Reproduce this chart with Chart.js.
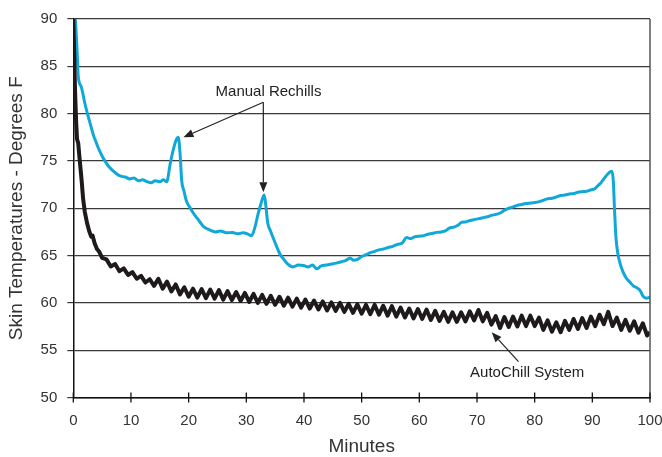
<!DOCTYPE html>
<html>
<head>
<meta charset="utf-8">
<script src="https://cdn.jsdelivr.net/npm/chart.js@4.4.1/dist/chart.umd.min.js"></script>
<style>
  html, body { margin: 0; padding: 0; background: #fff; }
</style>
</head>
<body>
<canvas id="myChart" width="662" height="457"></canvas>
<script>
// AutoChill system (black) - minutes and skin temperature
const autoChillMin = [0, 0.15, 0.3, 0.5, 0.65, 0.85, 1.05, 1.45, 1.7, 2.0, 2.4, 2.8, 3.1, 3.35, 3.7, 4.1, 4.5,
  5, 5.75, 6.5, 7.25, 8, 8.75, 9.5, 10.25, 11, 11.75, 12.5, 13.25, 14, 14.75, 15.5, 16.25, 17, 17.75,
  18.5, 19.25, 20, 20.75, 21.5, 22.25, 23, 23.75, 24.5, 25.25, 26, 26.75, 27.5, 28.25, 29, 29.75,
  30.5, 31.25, 32, 32.75, 33.5, 34.25, 35, 35.75, 36.5, 37.25, 38, 38.75, 39.5, 40.25, 41, 41.75,
  42.5, 43.25, 44, 44.75, 45.5, 46.25, 47, 47.75, 48.5, 49.25, 50, 50.75, 51.5, 52.25, 53, 53.75,
  54.5, 55.25, 56, 56.75, 57.5, 58.25, 59, 59.75, 60.5, 61.25, 62, 62.75, 63.5, 64.25, 65, 65.75,
  66.5, 67.25, 68, 68.75, 69.5, 70.25, 71, 71.75, 72.5, 73.25, 74, 74.75, 75.5, 76.25, 77, 77.75,
  78.5, 79.25, 80, 80.75, 81.5, 82.25, 83, 83.75, 84.5, 85.25, 86, 86.75, 87.5, 88.25, 89, 89.75,
  90.5, 91.25, 92, 92.75, 93.5, 94.25, 95, 95.75, 96.5, 97.25, 98, 98.75, 99.5, 100];
const autoChillTemp = [90, 86.5, 82.5, 79, 77.3, 76.9, 75.5, 72.9, 71.0, 69.6, 68.4, 67.5, 67.0, 67.1, 66.3, 65.7, 65.4,
  64.75, 64.6, 63.85, 64.1, 63.35, 63.65, 62.95, 63.25, 62.55, 62.85, 62.15, 62.5, 61.8, 62.55, 61.5, 62.25, 61.2, 61.95,
  60.9, 61.65, 60.65, 61.5, 60.55, 61.45, 60.5, 61.4, 60.45, 61.35, 60.35, 61.25, 60.3, 61.15, 60.2, 61.05,
  60.1, 60.95, 60.0, 60.85, 59.9, 60.75, 59.8, 60.65, 59.7, 60.55, 59.6, 60.45, 59.5, 60.35, 59.4, 60.25,
  59.3, 60.15, 59.2, 60.05, 59.15, 60.0, 59.05, 59.9, 58.95, 59.85, 58.85, 59.8, 58.8, 59.8, 58.75, 59.7,
  58.65, 59.65, 58.55, 59.5, 58.45, 59.4, 58.35, 59.35, 58.3, 59.3, 58.2, 59.15, 58.1, 59.05, 58.0, 59.0,
  58.0, 59.0, 58.05, 59.1, 58.15, 59.25, 58.05, 58.95, 57.7, 58.6, 57.35, 58.5, 57.45, 58.55, 57.5, 58.65,
  57.55, 58.65, 57.55, 58.45, 57.15, 58.15, 56.95, 57.95, 56.9, 58.1, 57.15, 58.3, 57.25, 58.4, 57.35, 58.55,
  57.55, 58.75, 57.75, 59.05, 57.55, 58.45, 57.15, 58.2, 57.05, 58.05, 56.85, 57.85, 56.55, 56.9];

// manual rechill (blue)
const manualMin = [0.35, 0.5, 0.66, 0.85, 1.4, 2.0, 2.5, 3.0, 3.5, 4.0, 4.6, 5.1, 5.7, 6.3, 7.0, 7.6, 8.2, 9.0, 9.8,
  10.5, 11.3, 12.0, 12.8, 13.5, 14.2, 15.0, 15.6, 16.2, 16.8, 17.3, 17.9, 18.2, 18.5, 18.8, 19.2, 19.6,
  20.2, 20.8, 21.4, 21.9, 22.7, 23.7, 24.6, 25.5, 26.6, 27.6, 28.5, 29.4, 30.2, 30.9, 31.5, 32.0, 32.5,
  33.1, 33.4, 33.7, 34.2, 34.7, 35.3, 35.8, 36.5, 37.2, 38.1, 39.0, 39.9, 40.7, 41.5, 42.2, 43.0, 43.9,
  44.8, 45.6, 46.5, 47.3, 48.0, 48.6, 49.3, 50.0, 50.8, 51.5, 52.3, 53.0, 53.8, 54.6, 55.5, 56.3, 57.0,
  57.8, 58.5, 59.3, 60.0, 60.7, 61.5, 62.3, 63.0, 63.8, 64.5, 65.2, 66.0, 66.7, 67.3, 68.0, 68.8, 69.5,
  70.3, 71.0, 71.8, 72.5, 73.3, 74.0, 74.8, 75.5, 76.3, 77.0, 77.8, 78.5, 79.3, 80.0, 80.8, 81.5, 82.3,
  83.0, 83.8, 84.5, 85.3, 86.0, 86.8, 87.5, 88.3, 89.0, 89.8, 90.5, 91.0, 91.5, 92.0, 92.5, 93.0, 93.4,
  93.65, 93.85, 94.1, 94.4, 94.8, 95.3, 95.9, 96.5, 97.1, 97.7, 98.3, 98.8, 99.4, 100];
const manualTemp = [90.0, 88.5, 86.6, 84.0, 82.8, 81.1, 79.9, 78.8, 77.7, 76.9, 76.0, 75.4, 74.8, 74.3, 73.9, 73.6, 73.4, 73.3, 73.1,
  73.2, 72.9, 73.0, 72.8, 72.7, 72.9, 72.8, 73.0, 72.8, 74.7, 76.1, 77.3, 77.5, 75.9, 72.9, 71.8, 70.8,
  70.1, 69.5, 69.0, 68.6, 68.0, 67.7, 67.5, 67.6, 67.4, 67.45, 67.3, 67.4, 67.3, 67.1, 68.0, 69.3, 70.4,
  71.4, 70.2, 68.5, 67.6, 66.8, 65.9, 65.2, 64.6, 64.1, 63.8, 64.0, 63.95, 63.8, 64.0, 63.6, 63.9, 64.0,
  64.1, 64.2, 64.35, 64.5, 64.75, 64.5, 64.6, 64.9, 65.1, 65.3, 65.45, 65.6, 65.7, 65.85, 66.0, 66.2, 66.3,
  66.9, 66.8, 67.0, 67.05, 67.1, 67.25, 67.35, 67.45, 67.5, 67.6, 67.9, 68.0, 68.2, 68.5, 68.55, 68.7, 68.8,
  68.9, 69.0, 69.1, 69.25, 69.35, 69.5, 69.8, 70.0, 70.15, 70.3, 70.4, 70.5, 70.55, 70.6, 70.7, 70.85, 71.0,
  71.05, 71.2, 71.35, 71.4, 71.5, 71.55, 71.7, 71.75, 71.8, 71.95, 72.1, 72.4, 72.7, 73.1, 73.5, 73.8, 73.9,
  72.8, 69.8, 66.9, 65.3, 64.2, 63.3, 62.6, 62.2, 61.8, 61.6, 61.3, 60.7, 60.5, 60.6];

// callouts, in chart units (minutes, degrees)
const rechillLabel = { text: 'Manual Rechills', x: 33.85, y: 82.3 };
const rechillArrows = [[32.95, 81.2, 19.1, 77.5], [32.95, 81.2, 32.95, 71.7]];
const autoLabel = { text: 'AutoChill System', x: 78.7, y: 52.6 };
const autoArrows = [[77.2, 53.8, 72.55, 56.9]];

const FONT = '"Liberation Sans", Arial, Helvetica, sans-serif';

function toPoints(xs, ys) {
    return xs.map((m, i) => ({ x: m, y: ys[i] }));
}

function drawArrow(ctx, x1, y1, x2, y2) {
    const ang = Math.atan2(y2 - y1, x2 - x1);
    const len = 10, half = 4;
    const bx = x2 - Math.cos(ang) * len, by = y2 - Math.sin(ang) * len;
    ctx.beginPath();
    ctx.moveTo(x1, y1);
    ctx.lineTo(bx, by);
    ctx.stroke();
    ctx.beginPath();
    ctx.moveTo(x2, y2);
    ctx.lineTo(bx - Math.sin(ang) * half, by + Math.cos(ang) * half);
    ctx.lineTo(bx + Math.sin(ang) * half, by - Math.cos(ang) * half);
    ctx.closePath();
    ctx.fill();
}

const extras = {
    id: 'extras',
    afterDatasetsDraw(chart) {
        const ctx = chart.ctx, xs = chart.scales.x, ys = chart.scales.y, area = chart.chartArea;
        ctx.save();
        // right frame line
        ctx.strokeStyle = '#555';
        ctx.lineWidth = 1.5;
        ctx.beginPath();
        ctx.moveTo(area.right, area.top);
        ctx.lineTo(area.right, area.bottom);
        ctx.stroke();
        // x ticks cross the axis
        ctx.strokeStyle = '#111';
        ctx.lineWidth = 1.3;
        xs.ticks.forEach(t => {
            const px = xs.getPixelForValue(t.value);
            ctx.beginPath();
            ctx.moveTo(px, area.bottom - 5);
            ctx.lineTo(px, area.bottom + 5);
            ctx.stroke();
        });
        // callouts
        ctx.strokeStyle = '#222';
        ctx.fillStyle = '#222';
        ctx.lineWidth = 1.2;
        rechillArrows.concat(autoArrows).forEach(a => {
            drawArrow(ctx, xs.getPixelForValue(a[0]), ys.getPixelForValue(a[1]),
                xs.getPixelForValue(a[2]), ys.getPixelForValue(a[3]));
        });
        ctx.font = '15px ' + FONT;
        ctx.textAlign = 'center';
        ctx.textBaseline = 'middle';
        [rechillLabel, autoLabel].forEach(l => {
            ctx.fillText(l.text, xs.getPixelForValue(l.x), ys.getPixelForValue(l.y));
        });
        ctx.restore();
    }
};

const ctx = document.getElementById('myChart');
var myChart = new Chart(ctx, {
    type: 'line',
    data: {
        datasets: [
            {
                label: 'AutoChill System',
                data: toPoints(autoChillMin, autoChillTemp),
                borderColor: '#1e1a1b',
                borderWidth: 4,
                borderJoinStyle: 'round',
                pointRadius: 0,
                tension: 0
            },
            {
                label: 'Manual Rechills',
                data: toPoints(manualMin, manualTemp),
                borderColor: '#0fa8d8',
                borderWidth: 3,
                pointRadius: 0,
                cubicInterpolationMode: 'monotone'
            }
        ]
    },
    options: {
        responsive: false,
        animation: false,
        layout: { padding: { left: 0, right: 0, top: 18, bottom: 0 } },
        plugins: {
            legend: { display: false },
            tooltip: { enabled: false }
        },
        scales: {
            x: {
                type: 'linear',
                min: 0,
                max: 100,
                // fixed box so the plot ends where the original does
                afterFit: s => { s.height = 59.5; s.paddingLeft = 0; s.paddingRight = 12; },
                ticks: {
                    stepSize: 10,
                    autoSkip: false,
                    maxRotation: 0,
                    padding: 14,
                    color: '#333',
                    font: { family: FONT, size: 15 }
                },
                grid: { display: false, drawTicks: false },
                border: { display: true, color: '#111', width: 1.5 },
                title: {
                    display: true,
                    text: 'Minutes',
                    color: '#333',
                    font: { family: FONT, size: 19, lineHeight: 1 },
                    padding: { top: 0, bottom: 1 }
                }
            },
            y: {
                min: 50,
                max: 90,
                afterFit: s => { s.width = 73.3; },
                ticks: {
                    stepSize: 5,
                    padding: 10,
                    color: '#333',
                    font: { family: FONT, size: 15 }
                },
                grid: { color: '#3a3a3a', lineWidth: 1.2, tickLength: 6 },
                border: { display: true, color: '#111', width: 1.5 },
                title: {
                    display: true,
                    text: 'Skin Temperatures - Degrees F',
                    color: '#333',
                    font: { family: FONT, size: 19, lineHeight: 1 },
                    padding: { top: 7.5, bottom: 0 }
                }
            }
        }
    },
    plugins: [extras]
});
</script>
</body>
</html>
